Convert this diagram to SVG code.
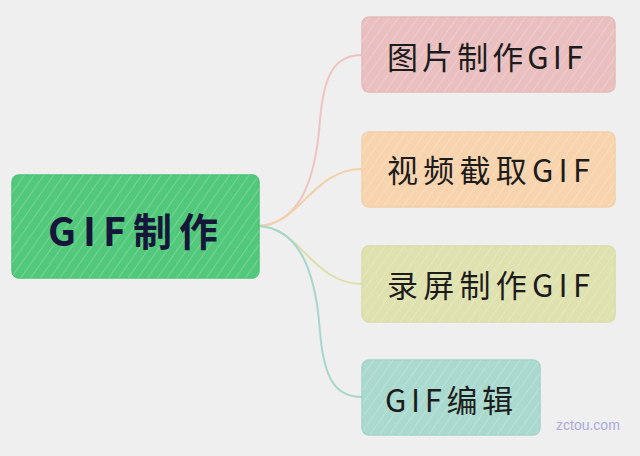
<svg xmlns="http://www.w3.org/2000/svg" width="640" height="456" viewBox="0 0 640 456">
  <defs>
    <pattern id="hatch" width="8" height="8" patternUnits="userSpaceOnUse" patternTransform="rotate(35)">
      <line x1="0" y1="0" x2="0" y2="8" stroke="#ffffff" stroke-opacity="0.4" stroke-width="1.1"/>
    </pattern>
    <style>
      .box { stroke-width: 1.5; }
      .hatch { fill: url(#hatch); }
      .lbl { font-family: "Noto Sans CJK SC", "Noto Sans", sans-serif; font-size: 31px; fill: #1c1c1c; dominant-baseline: central; }
      .main { font-family: "Noto Sans CJK SC", "Noto Sans", sans-serif; font-size: 39px; font-weight: bold; fill: #15163a; dominant-baseline: central; }
      .conn { fill: none; stroke-width: 2; }
    </style>
  </defs>
  <rect width="640" height="456" fill="#efefef"/>

  <g id="connectors">
    <path class="conn" stroke="#efc3c1" d="M258,226 C295,224 315,190 320,120 C324,72 336,55 362,55"/>
    <path class="conn" stroke="#f3d0a6" d="M258,226 C300,226 312,169 362,169"/>
    <path class="conn" stroke="#dfdfa9" d="M258,226 C300,226 312,284 362,284"/>
    <path class="conn" stroke="#a6d6cc" d="M258,226 C295,228 315,262 320,332 C324,380 336,397 362,397"/>
  </g>

  <g id="root">
    <rect class="box" x="12" y="175" width="247" height="103" rx="7" fill="#52c87a" stroke="#4cc276"/>
    <rect class="hatch" x="12" y="175" width="247" height="103" rx="7"/>
    <text class="main" x="48" y="229" textLength="170" lengthAdjust="spacing">GIF制作</text>
  </g>

  <g id="node1">
    <rect class="box" x="362" y="17" width="253" height="75" rx="7" fill="#e9bfc0" stroke="#e5b9ba"/>
    <rect class="hatch" x="362" y="17" width="253" height="75" rx="7"/>
    <text class="lbl" x="387" y="55" textLength="196" lengthAdjust="spacing">图片制作GIF</text>
  </g>

  <g id="node2">
    <rect class="box" x="362" y="132" width="253" height="75" rx="7" fill="#f7d4ad" stroke="#f2cfa7"/>
    <rect class="hatch" x="362" y="132" width="253" height="75" rx="7"/>
    <text class="lbl" x="387" y="168" textLength="203" lengthAdjust="spacing">视频截取GIF</text>
  </g>

  <g id="node3">
    <rect class="box" x="362" y="246" width="253" height="76" rx="7" fill="#dfe1af" stroke="#dadca9"/>
    <rect class="hatch" x="362" y="246" width="253" height="76" rx="7"/>
    <text class="lbl" x="387" y="283" textLength="203" lengthAdjust="spacing">录屏制作GIF</text>
  </g>

  <g id="node4">
    <rect class="box" x="362" y="360" width="178" height="75" rx="7" fill="#a9d9cf" stroke="#a3d3c9"/>
    <rect class="hatch" x="362" y="360" width="178" height="75" rx="7"/>
    <text class="lbl" x="385" y="398" textLength="128" lengthAdjust="spacing">GIF编辑</text>
  </g>

  <text x="556" y="425" font-family="Liberation Sans, Arial, sans-serif" font-size="14" fill="#aaaadd" dominant-baseline="central">zctou.com</text>
</svg>
